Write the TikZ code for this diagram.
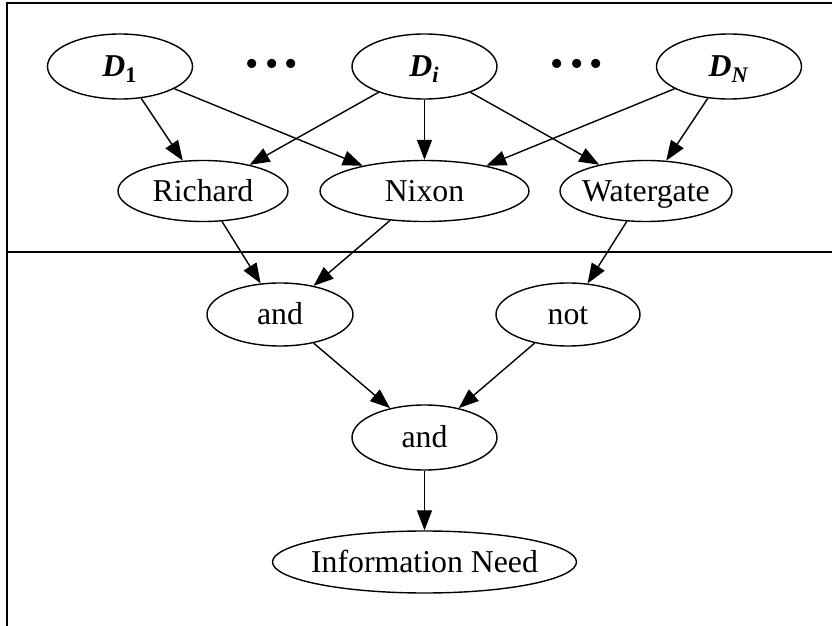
\documentclass[tikz,border=0pt]{standalone}
\usepackage{fontspec}
\setmainfont{Liberation Serif}
\usetikzlibrary{shapes.geometric,arrows.meta}
\newcommand{\dlabel}[1]{\textbf{\textit{D}}\textsubscript{\textbf{#1}}}
\tikzset{
  net/.style={ellipse, draw, line width=0.7pt, inner xsep=-3pt, inner ysep=0pt,
    text height=12.5pt, text depth=2pt},
  link/.style={-{Triangle[length=10pt,width=7.5pt]}, line width=0.7pt},
}
\begin{document}
\begin{tikzpicture}[x=0.5pt, y=-0.5pt, font=\fontsize{15.9}{19}\selectfont]
\useasboundingbox (0,0) rectangle (832,626);
% frame and divider
\draw [line width=0.7pt] (832,3) -- (7,3) -- (7,626);
\draw [line width=0.7pt] (7,252) -- (832,252);
% documents
\node [net, minimum width=72.5pt, minimum height=32.5pt] (d1) at (120,66.5) {\dlabel{1}};
\node [net, minimum width=72.5pt, minimum height=32.5pt] (di) at (424.5,66.5) {\dlabel{\textit{i}}};
\node [net, minimum width=72.5pt, minimum height=32.5pt] (dn) at (729,66.5) {\dlabel{\textit{N}}};
\node [font=\fontsize{19}{19}\selectfont] (dotsa) at (272,68) {\textbullet\,\textbullet\,\textbullet};
\node [font=\fontsize{19}{19}\selectfont] (dotsb) at (577,68) {\textbullet\,\textbullet\,\textbullet};
% terms
\node [net, minimum width=85pt, minimum height=30.5pt] (richard) at (203,191) {Richard};
\node [net, minimum width=104.5pt, minimum height=30.5pt] (nixon) at (424.5,191) {Nixon};
\node [net, minimum width=86pt, minimum height=30.5pt] (watergate) at (646,191) {Watergate};
% query operators
\node [net, minimum width=73pt, minimum height=31.5pt] (anda) at (280,314.5) {and};
\node [net, minimum width=72pt, minimum height=31.5pt] (nota) at (568,314.5) {not};
\node [net, minimum width=72.5pt, minimum height=32.5pt] (andb) at (424.5,437.5) {and};
\node [net, minimum height=31pt] (need) at (424.5,562) {Information Need};
% links
\draw [link] (d1) -- (richard);
\draw [link] (d1) -- (nixon);
\draw [link] (di) -- (richard);
\draw [link] (di) -- (nixon);
\draw [link] (di) -- (watergate);
\draw [link] (dn) -- (nixon);
\draw [link] (dn) -- (watergate);
\draw [link] (richard) -- (anda);
\draw [link] (nixon) -- (anda);
\draw [link] (watergate) -- (nota);
\draw [link] (anda) -- (andb);
\draw [link] (nota) -- (andb);
\draw [link] (andb) -- (need);
\end{tikzpicture}
\end{document}
